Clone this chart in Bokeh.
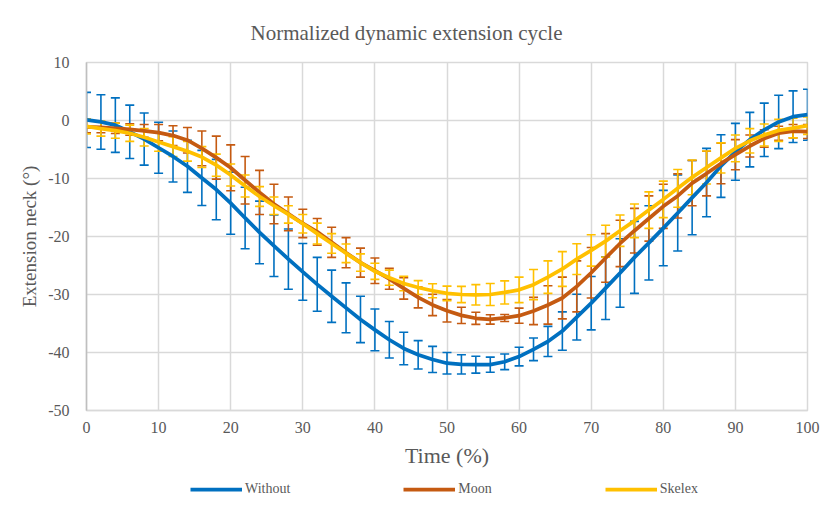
from bokeh.plotting import figure
from bokeh.layouts import column
from bokeh.models import Range1d, Legend, LegendItem, FixedTicker, Title, ColumnDataSource
from bokeh.embed import file_html
from bokeh.resources import INLINE

# Time (%)
time_pct = [0, 2, 4, 6, 8, 10, 12, 14, 16, 18, 20, 22, 24, 26, 28, 30, 32, 34, 36, 38,
            40, 42, 44, 46, 48, 50, 52, 54, 56, 58, 60, 62, 64, 66, 68, 70, 72, 74, 76, 78,
            80, 82, 84, 86, 88, 90, 92, 94, 96, 98, 100]

without_mean = [0.1, -0.25, -0.8, -1.95, -3.2, -4.7, -6.2, -7.9, -9.9, -11.9,
                -14.25, -16.8, -19.3, -21.6, -23.9, -26.1, -28.25, -30.3, -32.3, -34.3,
                -36.1, -37.8, -39.3, -40.4, -41.2, -41.85, -42.05, -42.1, -42.1, -41.6,
                -40.7, -39.45, -38.1, -36.3, -33.9, -31.5, -28.9, -26.3, -23.6, -21.1,
                -18.55, -15.95, -13.3, -10.7, -7.85, -5.4, -3.3, -1.6, -0.25, 0.65, 1.0]
without_sd = [4.75, 4.7, 4.7, 4.6, 4.5, 4.4, 4.4, 4.5, 4.75, 5.2,
              5.35, 5.3, 5.4, 5.3, 5.2, 4.9, 4.65, 4.5, 4.3, 4.0,
              3.6, 3.15, 2.8, 2.45, 2.25, 1.85, 1.65, 1.45, 1.3, 1.35,
              1.6, 1.95, 2.6, 3.3, 3.95, 4.6, 5.4, 5.9, 6.2, 6.4,
              6.5, 6.55, 6.4, 5.9, 5.4, 4.9, 4.7, 4.6, 4.6, 4.45, 4.4]

moon_mean = [-1.1, -1.2, -1.35, -1.55, -1.8, -2.1, -2.6, -3.4, -4.8, -6.4,
             -8.15, -10.3, -12.4, -14.4, -16.1, -17.75, -19.2, -21.0, -22.8, -24.5,
             -25.9, -27.3, -28.95, -30.5, -31.8, -32.8, -33.6, -34.1, -34.3, -34.05,
             -33.65, -32.85, -31.8, -30.6, -28.6, -26.25, -23.7, -21.2, -19.0, -16.9,
             -14.8, -13.0, -10.8, -9.15, -7.4, -5.9, -4.4, -3.1, -2.2, -1.85, -1.9]
moon_sd = [1.0, 0.9, 0.9, 1.0, 1.1, 1.4, 1.7, 2.2, 3.0, 3.7,
           3.95, 4.1, 3.8, 3.4, 2.9, 2.45, 2.3, 2.6, 2.6, 2.5,
           2.2, 1.8, 1.85, 1.8, 1.85, 1.95, 1.4, 1.05, 0.8, 0.6,
           1.3, 2.35, 3.3, 3.6, 4.4, 4.35, 4.2, 4.0, 3.85, 3.9,
           3.8, 3.8, 3.9, 3.85, 3.5, 2.6, 1.9, 1.5, 1.2, 1.15, 1.2]

skelex_mean = [-1.0, -1.4, -1.75, -2.2, -2.9, -3.7, -4.5, -5.3, -6.3, -7.7,
               -9.4, -11.3, -13.1, -14.7, -16.2, -17.8, -19.5, -21.2, -22.9, -24.5,
               -26.0, -27.1, -28.1, -28.8, -29.35, -29.8, -30.0, -30.05, -30.0, -29.65,
               -29.2, -28.3, -27.0, -25.6, -23.9, -22.4, -20.8, -19.0, -17.3, -15.45,
               -13.6, -11.7, -9.8, -8.1, -6.45, -4.8, -3.5, -2.5, -1.7, -1.3, -0.9]
skelex_sd = [1.3, 1.3, 1.3, 1.4, 1.5, 1.6, 1.7, 1.7, 1.8, 1.9,
             1.9, 1.9, 1.7, 1.5, 1.5, 1.6, 1.8, 1.7, 1.6, 1.5,
             1.4, 1.3, 1.25, 1.2, 1.2, 1.25, 1.4, 1.75, 1.9, 2.0,
             2.2, 2.6, 2.8, 3.0, 2.65, 2.7, 2.75, 2.7, 2.9, 3.15,
             3.15, 3.25, 3.0, 2.85, 2.6, 2.3, 2.1, 1.9, 1.9, 1.7, 1.5]

series_names = ["Without", "Moon", "Skelex"]
series_colors = ["#0070C0", "#C55A11", "#FFC000"]
x_ticks = [0, 10, 20, 30, 40, 50, 60, 70, 80, 90, 100]
y_ticks = [-50, -40, -30, -20, -10, 0, 10]

FONT = "Liberation Serif"
TXT = "#595959"
GRID = "#d9d9d9"

p = figure(width=825, height=470, x_range=Range1d(0, 100), y_range=Range1d(-50, 10),
           output_backend="svg", toolbar_location=None,
           min_border_left=86, min_border_right=18, min_border_top=61, min_border_bottom=60)

p.title = Title(text="Normalized dynamic extension cycle", align="left", offset=164,
                text_font=FONT, text_font_size="21px", text_color=TXT,
                text_font_style="normal", standoff=36)

p.outline_line_color = GRID
p.outline_line_width = 1.5

for ax in (p.xaxis[0], p.yaxis[0]):
    ax.major_tick_line_color = None
    ax.minor_tick_line_color = None
    ax.major_label_text_font = FONT
    ax.major_label_text_font_size = "16px"
    ax.major_label_text_color = TXT
    ax.axis_label_text_font = FONT
    ax.axis_label_text_color = TXT
    ax.axis_label_text_font_style = "normal"

p.xaxis.ticker = FixedTicker(ticks=x_ticks)
p.yaxis.ticker = FixedTicker(ticks=y_ticks)
p.xaxis.major_label_overrides = {t: str(t) for t in x_ticks}
p.yaxis.major_label_overrides = {t: str(t) for t in y_ticks}
p.xaxis.axis_line_color = GRID
p.yaxis.axis_line_color = "#bfbfbf"
p.xaxis.axis_line_width = 1.5
p.yaxis.axis_line_width = 1.5
p.xaxis.major_label_standoff = 5
p.yaxis.major_label_standoff = 11
p.xaxis.axis_label = "Time (%)"
p.yaxis.axis_label = "Extension neck (°)"
p.xaxis.axis_label_text_font_size = "22px"
p.yaxis.axis_label_text_font_size = "19px"
p.xaxis.axis_label_standoff = 7
p.yaxis.axis_label_standoff = 5

p.xgrid.grid_line_color = GRID
p.ygrid.grid_line_color = GRID
p.xgrid.grid_line_width = 1.5
p.ygrid.grid_line_width = 1.5

means = [without_mean, moon_mean, skelex_mean]
sds = [without_sd, moon_sd, skelex_sd]

# error bars
for m, s, c in zip(means, sds, series_colors):
    lo = [a - b for a, b in zip(m, s)]
    hi = [a + b for a, b in zip(m, s)]
    src = ColumnDataSource(dict(x=time_pct, lo=lo, hi=hi))
    p.segment(x0="x", y0="lo", x1="x", y1="hi", source=src, line_color=c, line_width=1.6)
    p.scatter(x="x", y="lo", source=src, marker="dash", size=9, line_color=c, line_width=1.6)
    p.scatter(x="x", y="hi", source=src, marker="dash", size=9, line_color=c, line_width=1.6)

for m, c in zip(means, series_colors):
    p.line(time_pct, m, line_color=c, line_width=3.75)

# legend strip below the chart: same series, drawn outside its visible range
lg = figure(width=825, height=36, x_range=Range1d(0, 100), y_range=Range1d(500, 600),
            output_backend="svg", toolbar_location=None,
            min_border_left=86, min_border_right=18, min_border_top=9, min_border_bottom=7)
lg.axis.visible = False
lg.grid.visible = False
lg.outline_line_color = None
items = []
for m, c, n in zip(means, series_colors, series_names):
    r = lg.line(time_pct, m, line_color=c, line_width=3.75)
    items.append(LegendItem(label=n, renderers=[r]))
legend = Legend(items=items, orientation="horizontal", location=(104, 0),
                label_text_font=FONT, label_text_font_size="14px", label_text_color=TXT,
                glyph_width=52, glyph_height=20, label_height=20, label_standoff=3,
                spacing=113, padding=0, margin=0,
                border_line_color=None, background_fill_alpha=0)
lg.add_layout(legend)

layout = column(p, lg, spacing=0)
open("out.html", "w").write(file_html(layout, INLINE))
